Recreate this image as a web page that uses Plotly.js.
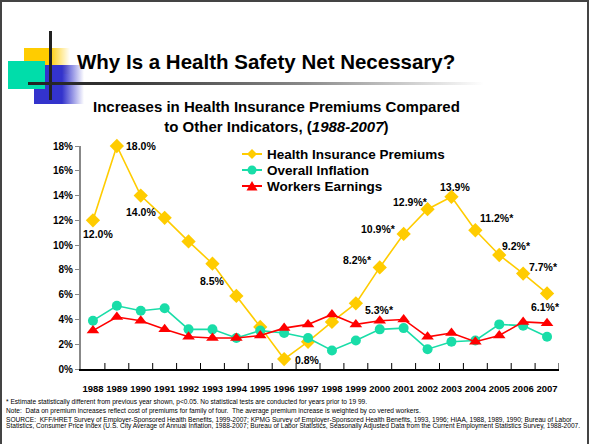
<!DOCTYPE html>
<html>
<head>
<meta charset="utf-8">
<script src="https://cdn.plot.ly/plotly-3.0.1.min.js"></script>
<style>
  html, body { margin:0; padding:0; background:#fff; }
  #wrap { position:relative; width:589px; height:444px; overflow:hidden; }
  #chart { position:absolute; left:0; top:0; width:589px; height:444px; }
  .deco { position:absolute; pointer-events:none; }
</style>
</head>
<body>
<div id="wrap">
  <div id="chart"></div>
  <div class="deco" style="left:24px;top:48px;width:46px;height:26px;background:linear-gradient(to right,#FFCC00 0%,#FFCC00 55%,rgba(255,255,255,0) 100%);"></div>
  <div class="deco" style="left:34px;top:65px;width:50px;height:39px;background:linear-gradient(to right,#3333CC 0%,#3333CC 56%,rgba(255,255,255,0) 100%);"></div>
  <div class="deco" style="left:8px;top:61px;width:37px;height:28px;background:#00DDAA;"></div>
  <div class="deco" style="left:49px;top:31px;width:3px;height:69px;background:#222;"></div>
  <div class="deco" style="left:28px;top:82px;width:456px;height:3px;background:linear-gradient(to right,#222 0%,#333 20%,#888 60%,#fff 100%);"></div>
  <div class="deco" style="left:0;top:0;width:585px;height:460px;border-top:2px solid #444;border-left:2px solid #444;border-right:2px solid #444;"></div>
</div>
<script>
// ---- data ----
const years = ['1988','1989','1990','1991','1992','1993','1994','1995','1996','1997',
               '1998','1999','2000','2001','2002','2003','2004','2005','2006','2007'];
const healthPremiums = [12.0,18.0,14.0,12.2,10.3,8.5,5.9,3.4,0.8,2.2,
                        3.8,5.3,8.2,10.9,12.9,13.9,11.2,9.2,7.7,6.1];
const overallInflation = [3.9,5.1,4.7,4.9,3.2,3.2,2.5,3.1,2.9,2.5,
                          1.5,2.3,3.2,3.3,1.6,2.2,2.3,3.6,3.5,2.6];
const workersEarnings = [3.1,4.2,3.9,3.2,2.6,2.5,2.5,2.7,3.3,3.6,
                         4.4,3.6,3.9,4.0,2.6,2.9,2.2,2.7,3.8,3.7];
const seriesNames = ['Health Insurance Premiums','Overall Inflation','Workers Earnings'];
const labeledIdx   = [0,1,2,5,8,11,12,13,14,15,16,17,18,19];
const starredIdx   = [11,12,13,14,16,17,18,19];
const yTickVals = [0,2,4,6,8,10,12,14,16,18];
const footnotes = [
  '* Estimate statistically different from previous year shown, p<0.05. No statistical tests are conducted for years prior to 19 99.',
  'Note:  Data on premium increases reflect cost of premiums for family of four.  The average premium increase is weighted by co vered workers.',
  'SOURCE:  KFF/HRET Survey of Employer-Sponsored Health Benefits, 1999-2007; KPMG Survey of Employer-Sponsored Health Benefits, 1993, 1996; HIAA, 1988, 1989, 1990; Bureau of Labor',
  'Statistics, Consumer Price Index (U.S. City Average of Annual Inflation, 1988-2007; Bureau of Labor Statistics, Seasonally Adjusted Data from the Current Employment Statistics Survey, 1988-2007.'
];

// ---- styles / label offsets (pixels) ----
const colors = ['#FFCC00', '#19DDA8', '#FF0000'];
const symbols = ['diamond', 'circle', 'triangle-up'];
const labelShift = {0:[5,-14],1:[24,0],2:[0,-16],5:[0,-17],8:[23,-1],11:[24,-7],12:[-22,7],
  13:[-25,5],14:[-17,7],15:[4,10],16:[22,12],17:[17,9],18:[20,7],19:[-2,-14]};

const FONT = 'Arial, "Liberation Sans", sans-serif';
const L = 81, R = 559, T = 146, B = 369, W = 589, H = 444;
const px = x => (x - L) / (R - L);
const py = y => (B - y) / (B - T);

const seriesVals = [healthPremiums, overallInflation, workersEarnings];
const traces = seriesVals.map((vals, k) => ({
  x: years, y: vals, name: seriesNames[k], type: 'scatter', mode: 'lines+markers', cliponaxis: false,
  line: {color: colors[k], width: 1.6},
  marker: {symbol: symbols[k], size: k === 1 ? 10 : 11, color: colors[k]}
}));

const annotations = [];
const shapes = [];
// category-boundary tick marks on the x axis (inside)
years.forEach((_, i) => {
  if (i === 0) return;
  shapes.push({type: 'line', xref: 'x', yref: 'paper', x0: i - 0.5, x1: i - 0.5,
               y0: 0, y1: py(B - 6), line: {color: '#000', width: 1}, layer: 'above'});
});
shapes.push({type: 'line', xref: 'x', yref: 'paper', x0: 19.5, x1: 19.5,
             y0: 0, y1: py(B - 6), line: {color: '#000', width: 1}, layer: 'above'});

labeledIdx.forEach(i => {
  const s = labelShift[i] || [0, 0];
  annotations.push({
    x: i, y: healthPremiums[i], xref: 'x', yref: 'y', showarrow: false,
    text: healthPremiums[i].toFixed(1) + '%' + (starredIdx.includes(i) ? '*' : ''),
    font: {family: FONT, size: 10.5, color: '#000', weight: 'bold'},
    xshift: s[0], yshift: s[1], xanchor: 'center', yanchor: 'middle'
  });
});
annotations.push({
  xref: 'paper', yref: 'paper', x: px(266), y: py(61), showarrow: false,
  xanchor: 'center', yanchor: 'middle',
  text: 'Why Is a Health Safety Net Necessary?',
  font: {family: FONT, size: 20.5, color: '#000', weight: 'bold'}
});
annotations.push({
  xref: 'paper', yref: 'paper', x: px(276), y: py(116.5), showarrow: false,
  xanchor: 'center', yanchor: 'middle', align: 'center',
  text: 'Increases in Health Insurance Premiums Compared<br>to Other Indicators, (<i>1988-2007</i>)',
  font: {family: FONT, size: 15, color: '#000', weight: 'bold'}
});
const fnY = [402, 411, 419.5, 426];
footnotes.forEach((t, k) => {
  annotations.push({
    xref: 'paper', yref: 'paper', x: px(4), y: py(fnY[k]), showarrow: false,
    xanchor: 'left', yanchor: 'middle', align: 'left',
    text: t.replace(/</g, '&lt;'),
    font: {family: FONT, size: 6.6, color: '#000'}
  });
});

// ---- manual legend ----
const legY = [154, 170, 186];
seriesNames.forEach((name, k) => {
  const y = legY[k], cx = 252;
  shapes.push({type: 'line', xref: 'paper', yref: 'paper', x0: px(242), x1: px(262), y0: py(y), y1: py(y),
               line: {color: colors[k], width: 2}});
  if (k === 0) {
    const d = 5;
    shapes.push({type: 'path', xref: 'paper', yref: 'paper', fillcolor: colors[k], line: {width: 0},
      path: `M${px(cx-d)},${py(y)} L${px(cx)},${py(y-d)} L${px(cx+d)},${py(y)} L${px(cx)},${py(y+d)} Z`});
  } else if (k === 1) {
    const r = 4.5;
    shapes.push({type: 'circle', xref: 'paper', yref: 'paper', fillcolor: colors[k], line: {width: 0},
      x0: px(cx-r), x1: px(cx+r), y0: py(y+r), y1: py(y-r)});
  } else {
    const d = 5.5;
    shapes.push({type: 'path', xref: 'paper', yref: 'paper', fillcolor: colors[k], line: {width: 0},
      path: `M${px(cx-d)},${py(y+4.5)} L${px(cx)},${py(y-5)} L${px(cx+d)},${py(y+4.5)} Z`});
  }
  annotations.push({xref: 'paper', yref: 'paper', x: px(265), y: py(y), showarrow: false,
    xanchor: 'left', yanchor: 'middle', text: name,
    font: {family: FONT, size: 13.5, color: '#000', weight: 'bold'}});
});

const layout = {
  width: W, height: H,
  margin: {l: L, r: W - R, t: T, b: H - B, pad: 0},
  paper_bgcolor: '#fff', plot_bgcolor: '#fff',
  showlegend: false,
  xaxis: {type: 'category', range: [-0.5, 19.5], tickangle: 0,
          showline: true, linecolor: '#000', linewidth: 1.5,
          ticks: '', showgrid: false, zeroline: false, ticklabelstandoff: 10,
          tickfont: {family: FONT, size: 9.5, color: '#000', weight: 'bold'}},
  yaxis: {range: [0, 18], tickvals: yTickVals, ticktext: yTickVals.map(v => v + '%'),
          showline: true, linecolor: '#888', linewidth: 2, ticks: 'outside', ticklen: 4,
          tickcolor: '#888', tickwidth: 1, showgrid: false, zeroline: false,
          tickfont: {family: FONT, size: 10, color: '#000', weight: 'bold'}},
  shapes: shapes,
  annotations: annotations
};

Plotly.newPlot('chart', traces, layout, {staticPlot: true, displayModeBar: false});
</script>
</body>
</html>
